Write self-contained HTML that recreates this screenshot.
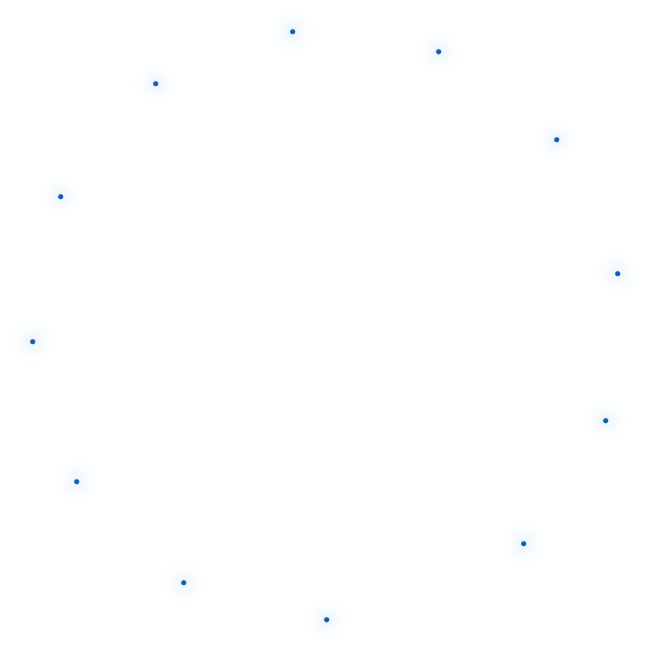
<!DOCTYPE html>
<html><head><style>html,body{margin:0;padding:0;background:#fff;width:649px;height:651px;overflow:hidden}</style></head>
<body>
<svg width="649" height="651" xmlns="http://www.w3.org/2000/svg">
<defs><radialGradient id="g"><stop offset="0" stop-color="#eaf4fc"/><stop offset="1" stop-color="#ffffff" stop-opacity="0"/></radialGradient></defs>
<g transform="translate(0.7,0.7)">
<circle cx="292" cy="31" r="26" fill="url(#g)"/><circle cx="292" cy="31" r="2.6" fill="#0a5fc0"/>
<circle cx="438" cy="51" r="26" fill="url(#g)"/><circle cx="438" cy="51" r="2.6" fill="#0a5fc0"/>
<circle cx="556" cy="139" r="26" fill="url(#g)"/><circle cx="556" cy="139" r="2.6" fill="#0a5fc0"/>
<circle cx="617" cy="273" r="26" fill="url(#g)"/><circle cx="617" cy="273" r="2.6" fill="#0a5fc0"/>
<circle cx="605" cy="420" r="26" fill="url(#g)"/><circle cx="605" cy="420" r="2.6" fill="#0a5fc0"/>
<circle cx="523" cy="543" r="26" fill="url(#g)"/><circle cx="523" cy="543" r="2.6" fill="#0a5fc0"/>
<circle cx="326" cy="619" r="26" fill="url(#g)"/><circle cx="326" cy="619" r="2.6" fill="#0a5fc0"/>
<circle cx="183" cy="582" r="26" fill="url(#g)"/><circle cx="183" cy="582" r="2.6" fill="#0a5fc0"/>
<circle cx="76" cy="481" r="26" fill="url(#g)"/><circle cx="76" cy="481" r="2.6" fill="#0a5fc0"/>
<circle cx="32" cy="341" r="26" fill="url(#g)"/><circle cx="32" cy="341" r="2.6" fill="#0a5fc0"/>
<circle cx="60" cy="196" r="26" fill="url(#g)"/><circle cx="60" cy="196" r="2.6" fill="#0a5fc0"/>
<circle cx="155" cy="83" r="26" fill="url(#g)"/><circle cx="155" cy="83" r="2.6" fill="#0a5fc0"/>
</g>
</svg>
</body></html>
